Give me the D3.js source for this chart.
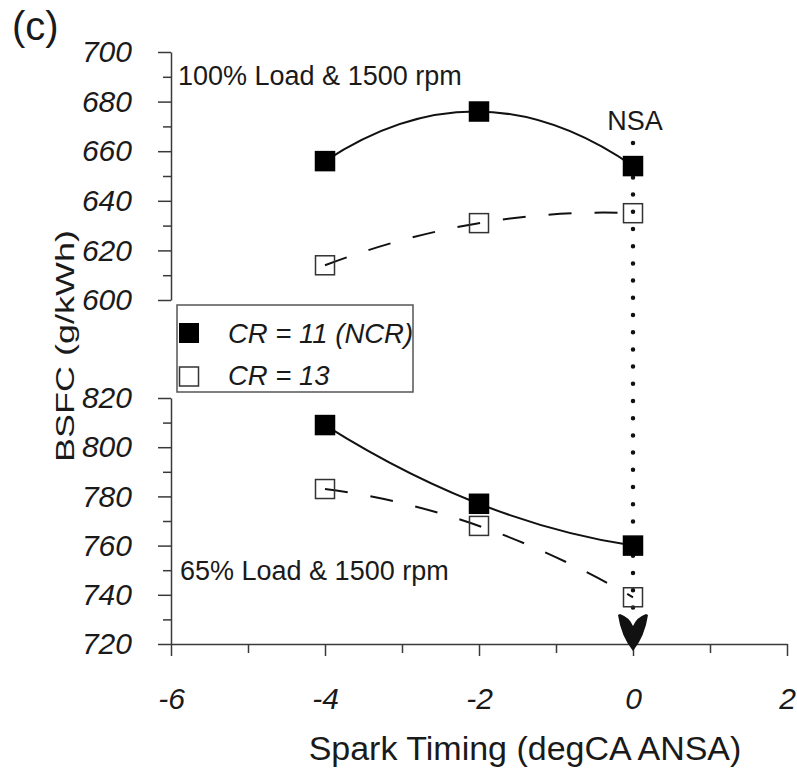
<!DOCTYPE html>
<html lang="en">
<head>
<meta charset="utf-8">
<title>BSFC vs Spark Timing</title>
<script src="https://d3js.org/d3.v7.min.js"></script>
<style>
  body { margin: 0; background: #fff; }
  svg text { font-family: "Liberation Sans", Arial, sans-serif; fill: #1a1a1a; }
  .axis path, .axis line { fill: none; stroke: #3a3a3a; stroke-width: 1.5; }
  .axis text { font-size: 30px; font-style: italic; font-family: "Liberation Sans", Arial, sans-serif; fill: #1a1a1a; }
</style>
</head>
<body>
<script>
// spark timing (degCA ANSA)
var timing = [-4, -2, 0];

// 100% load & 1500 rpm
var upperNCR = [656, 676, 654];
var upperCR13 = [614, 631, 635];

// 65% load & 1500 rpm
var lowerNCR = [809, 777, 760];
var lowerCR13 = [783, 768, 739];

var xTicks = [-6, -4, -2, 0, 2];
var upperTicks = [600, 620, 640, 660, 680, 700];
var lowerTicks = [720, 740, 760, 780, 800, 820];

var w = 797, h = 771;

var svg = d3.select("body").append("svg")
  .attr("width", w)
  .attr("height", h);

var x = d3.scaleLinear().domain([-6, 2]).range([171, 787]);
var yUp = d3.scaleLinear().domain([600, 700]).range([300, 52]);
var yLo = d3.scaleLinear().domain([720, 820]).range([644, 398]);

var plain = function(d) { return String(d); };

// minor ticks
svg.append("g").attr("class", "axis")
  .attr("transform", "translate(171,0)")
  .call(d3.axisLeft(yUp).tickValues(d3.range(610, 700, 20)).tickSize(8).tickFormat(""))
  .select(".domain").remove();
svg.append("g").attr("class", "axis")
  .attr("transform", "translate(171,0)")
  .call(d3.axisLeft(yLo).tickValues(d3.range(730, 820, 20)).tickSize(8).tickFormat(""))
  .select(".domain").remove();
svg.append("g").attr("class", "axis")
  .attr("transform", "translate(0,644)")
  .call(d3.axisBottom(x).tickValues([-5, -3, -1, 1]).tickSize(9).tickFormat(""))
  .select(".domain").remove();

// major axes
svg.append("g").attr("class", "axis")
  .attr("transform", "translate(171,0)")
  .call(d3.axisLeft(yUp).tickValues(upperTicks).tickSize(13).tickSizeOuter(0).tickPadding(26).tickFormat(plain));
svg.append("g").attr("class", "axis")
  .attr("transform", "translate(171,0)")
  .call(d3.axisLeft(yLo).tickValues(lowerTicks).tickSize(13).tickSizeOuter(0).tickPadding(26).tickFormat(plain));
svg.append("g").attr("class", "axis")
  .attr("transform", "translate(0,644)")
  .call(d3.axisBottom(x).tickValues(xTicks).tickSize(12).tickSizeOuter(0).tickPadding(32).tickFormat(plain));

// NSA dotted line + arrow
svg.append("line")
  .attr("x1", x(0)).attr("x2", x(0))
  .attr("y1", 143).attr("y2", 618)
  .attr("stroke", "#111")
  .attr("stroke-width", 4.5)
  .attr("stroke-linecap", "round")
  .attr("stroke-dasharray", "0 17.2");

var ax = x(0);
svg.append("path")
  .attr("d", "M" + ax + ",651" +
    " Q" + (ax - 12) + ",636 " + (ax - 15) + ",615" +
    " L" + (ax - 13) + ",614" +
    " Q" + (ax - 4) + ",617 " + ax + ",626" +
    " Q" + (ax + 4) + ",617 " + (ax + 13) + ",614" +
    " L" + (ax + 15) + ",615" +
    " Q" + (ax + 12) + ",636 " + ax + ",651 Z")
  .attr("fill", "#111");

svg.append("text")
  .attr("x", ax + 2).attr("y", 130)
  .attr("text-anchor", "middle")
  .attr("font-size", "27px")
  .text("NSA");

// parabola through three points (quadratic bezier)
function trend(vals, ys) {
  var p = d3.path();
  var x0 = x(timing[0]), x1 = x(timing[1]), x2 = x(timing[2]);
  var y0 = ys(vals[0]), y1 = ys(vals[1]), y2 = ys(vals[2]);
  p.moveTo(x0, y0);
  p.quadraticCurveTo(2 * x1 - (x0 + x2) / 2, 2 * y1 - (y0 + y2) / 2, x2, y2);
  return p.toString();
}

var series = [
  { vals: upperCR13, ys: yUp, filled: false },
  { vals: lowerCR13, ys: yLo, filled: false },
  { vals: upperNCR, ys: yUp, filled: true },
  { vals: lowerNCR, ys: yLo, filled: true }
];

series.forEach(function(s) {
  svg.append("path")
    .attr("d", trend(s.vals, s.ys))
    .attr("fill", "none")
    .attr("stroke", "#111")
    .attr("stroke-width", 2)
    .attr("stroke-dasharray", s.filled ? null : "23 23");
});

var sz = 19;
series.forEach(function(s) {
  svg.selectAll(null)
    .data(s.vals)
    .enter()
    .append("rect")
    .attr("x", function(d, i) { return x(timing[i]) - sz / 2; })
    .attr("y", function(d) { return s.ys(d) - sz / 2; })
    .attr("width", sz).attr("height", sz)
    .attr("fill", s.filled ? "#000" : "none")
    .attr("stroke", s.filled ? "#000" : "#333")
    .attr("stroke-width", 1.5);
});

// legend
svg.append("rect")
  .attr("x", 177).attr("y", 305)
  .attr("width", 236).attr("height", 87)
  .attr("fill", "#fff")
  .attr("stroke", "#555")
  .attr("stroke-width", 1.5);
svg.append("rect")
  .attr("x", 179).attr("y", 323).attr("width", 20).attr("height", 20)
  .attr("fill", "#000");
svg.append("rect")
  .attr("x", 179.5).attr("y", 367).attr("width", 19).attr("height", 19)
  .attr("fill", "#fff").attr("stroke", "#333").attr("stroke-width", 1.5);
svg.append("text")
  .attr("x", 228).attr("y", 343)
  .attr("font-size", "27.5px").attr("font-style", "italic")
  .text("CR = 11 (NCR)");
svg.append("text")
  .attr("x", 228).attr("y", 385)
  .attr("font-size", "27.5px").attr("font-style", "italic")
  .text("CR = 13");

// panel labels
svg.append("text")
  .attr("x", 178).attr("y", 85)
  .attr("font-size", "27px")
  .text("100% Load & 1500 rpm");
svg.append("text")
  .attr("x", 180).attr("y", 580)
  .attr("font-size", "27px")
  .text("65% Load & 1500 rpm");

svg.append("text")
  .attr("x", 12).attr("y", 40)
  .attr("font-size", "40px")
  .text("(c)");

// axis titles
svg.append("text")
  .attr("x", 525).attr("y", 760)
  .attr("text-anchor", "middle")
  .attr("font-size", "34px")
  .text("Spark Timing (degCA ANSA)");
svg.append("text")
  .attr("transform", "translate(74,346) rotate(-90) scale(1,0.72)")
  .attr("text-anchor", "middle")
  .attr("font-size", "36px")
  .text("BSFC (g/kWh)");
</script>
</body>
</html>
